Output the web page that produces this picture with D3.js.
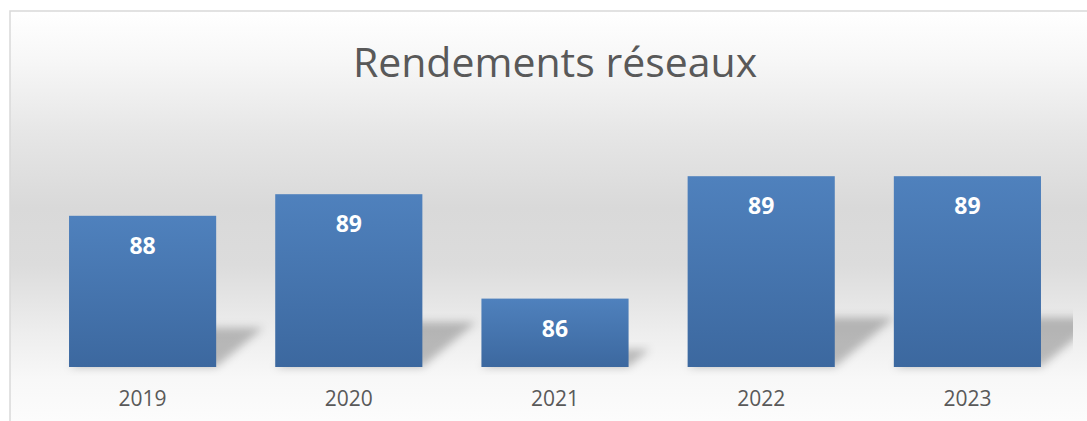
<!DOCTYPE html>
<html>
<head>
<meta charset="utf-8">
<script src="https://cdn.jsdelivr.net/npm/d3@7/dist/d3.min.js"></script>
<style>
  html, body { margin: 0; padding: 0; background: #ffffff; }
  svg { display: block; }
</style>
</head>
<body>
<svg id="chart" width="1087" height="421"></svg>
<script>
const title = "Rendements réseaux";
const categories = ["2019", "2020", "2021", "2022", "2023"];
const values = [88.2, 88.8, 85.9, 89.3, 89.3];
const valueLabels = ["88", "89", "86", "89", "89"];
const yDomain = [84, 90];

const W = 1087, H = 421;
const svg = d3.select("#chart");
const defs = svg.append("defs");

const bg = defs.append("linearGradient").attr("id", "bgGrad")
  .attr("gradientUnits", "userSpaceOnUse").attr("x1", 0).attr("y1", 11).attr("x2", 0).attr("y2", 421);
[[0, "#ffffff"], [0.12, "#f7f7f7"], [0.3, "#e6e6e6"], [0.48, "#d9d9d9"], [0.62, "#dcdcdc"], [0.78, "#ededed"], [0.9, "#f8f8f8"], [1, "#fcfcfc"]]
  .forEach(([o, c]) => bg.append("stop").attr("offset", o).attr("stop-color", c));

const barGrad = defs.append("linearGradient").attr("id", "barGrad")
  .attr("x1", 0).attr("y1", 0).attr("x2", 0).attr("y2", 1);
barGrad.append("stop").attr("offset", 0).attr("stop-color", "#4f81bd");
barGrad.append("stop").attr("offset", 1).attr("stop-color", "#3c689f");

const blur = defs.append("filter").attr("id", "shBlur")
  .attr("x", "-30%").attr("y", "-40%").attr("width", "160%").attr("height", "180%");
blur.append("feGaussianBlur").attr("stdDeviation", 4.5);

defs.append("clipPath").attr("id", "plotClip")
  .append("rect").attr("x", 10).attr("y", 11).attr("width", 1063).attr("height", 400);

svg.append("rect").attr("x", 10).attr("y", 11).attr("width", W).attr("height", H)
  .attr("fill", "url(#bgGrad)").attr("stroke", "#d9d9d9").attr("stroke-width", 1.5);

const x = d3.scaleBand().domain(categories).range([39.5, 1070.5])
  .paddingInner(0.2864).paddingOuter(0.1432);
const y = d3.scaleLinear().domain(yDomain).range([367, 151]);

const data = categories.map((c, i) => ({ c, v: values[i], lab: valueLabels[i] }));

const shG = svg.append("g").attr("clip-path", "url(#plotClip)");
shG.selectAll("path").data(data).join("path")
  .attr("d", d => {
    const x0 = x(d.c), x1 = x0 + x.bandwidth();
    const b = y(yDomain[0]);
    const h = (b - y(d.v)) * 0.26;
    const dx = h * 1.2;
    return `M${x0},${b}L${x1},${b}L${x1 + dx},${b - h}L${x0 + dx},${b - h}Z`;
  })
  .attr("fill", "#000").attr("fill-opacity", 0.24).attr("filter", "url(#shBlur)");

svg.append("g").selectAll("rect").data(data).join("rect")
  .attr("x", d => x(d.c)).attr("y", d => y(d.v))
  .attr("width", x.bandwidth()).attr("height", d => y(yDomain[0]) - y(d.v))
  .attr("fill", "url(#barGrad)");

svg.append("g").selectAll("text").data(data).join("text")
  .attr("x", d => x(d.c) + x.bandwidth() / 2).attr("y", d => y(d.v) + 38)
  .attr("text-anchor", "middle").attr("fill", "#ffffff")
  .attr("font-family", "'Open Sans', sans-serif").attr("font-weight", 700).attr("font-size", 23)
  .text(d => d.lab);

const xAxis = svg.append("g").attr("transform", `translate(0,${y(yDomain[0])})`)
  .call(d3.axisBottom(x).tickSize(0).tickPadding(0));
xAxis.select(".domain").remove();
xAxis.selectAll("text").attr("dy", 0).attr("y", 38.5)
  .attr("fill", "#595959").attr("font-family", "'Open Sans', sans-serif").attr("font-size", 21);

svg.append("text").attr("x", 555).attr("y", 76.5).attr("text-anchor", "middle")
  .attr("fill", "#595959").attr("font-family", "'Open Sans', sans-serif").attr("font-size", 41)
  .text(title);
</script>
</body>
</html>
